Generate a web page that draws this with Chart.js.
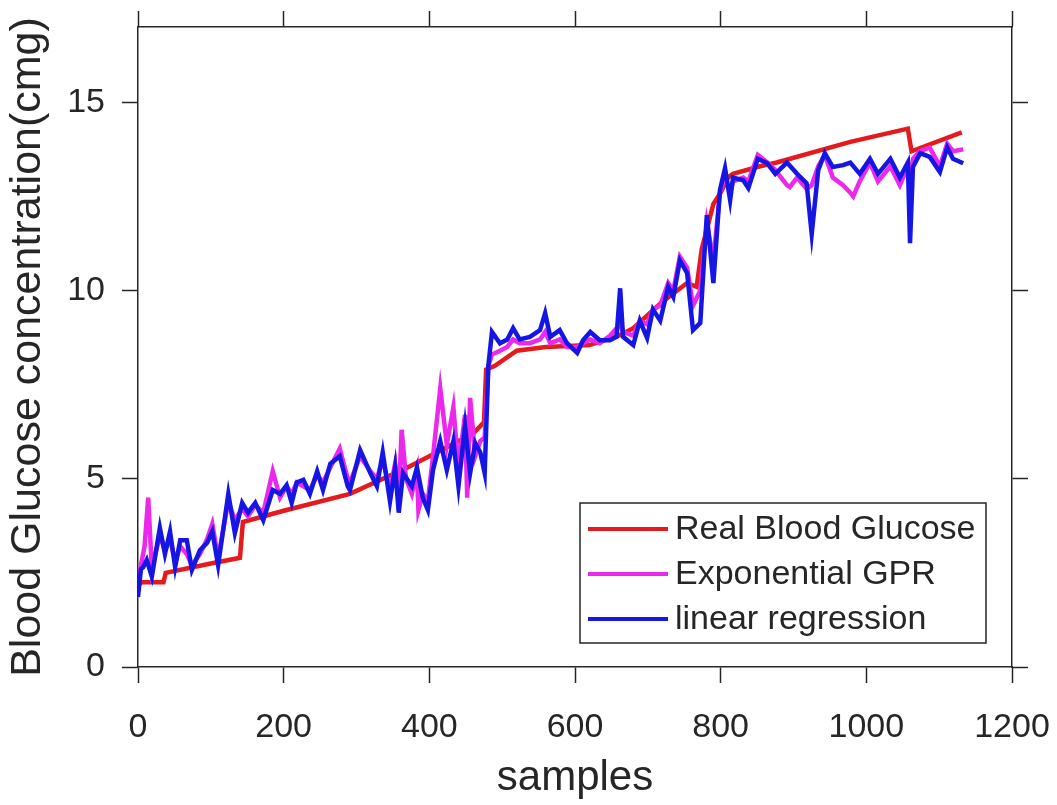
<!DOCTYPE html>
<html>
<head>
<meta charset="utf-8">
<script src="https://cdn.jsdelivr.net/npm/chart.js@4/dist/chart.umd.min.js"></script>
<style>
  body { margin: 0; background: #fff; }
</style>
</head>
<body>
<canvas id="glucoseChart" width="1057" height="805"></canvas>
<script>
const xTicks = [0, 200, 400, 600, 800, 1000, 1200];
const yTicks = [0, 5, 10, 15];

// Real Blood Glucose (red)
const realX = [0, 5, 35, 38, 100, 140, 144, 200, 291, 370, 400, 460, 475, 478, 490, 520, 560, 620, 660, 680,
  720, 754, 767, 774, 790, 800, 810, 817, 854, 877, 978, 1057, 1062, 1131];
const realY = [2.15, 2.25, 2.25, 2.5, 2.75, 2.9, 3.85, 4.15, 4.6, 5.3, 5.6, 6.2, 6.5, 7.9, 8.0, 8.4, 8.5, 8.55, 8.8, 9.0,
  9.7, 10.2, 10.1, 11.1, 12.3, 12.6, 13.0, 13.1, 13.3, 13.4, 13.95, 14.3, 13.7, 14.2];

// Exponential GPR (magenta)
const gprX = [0, 4, 9, 14, 19, 30, 37, 44, 51, 58, 67, 74, 85, 95, 102, 110, 124, 133, 143, 151,
  161, 172, 185, 195, 204, 211, 218, 227, 236, 246, 254, 264, 277, 288, 291, 305, 319, 328, 336, 346,
  353, 358, 362, 368, 376, 383, 385, 391, 398, 405, 415, 424, 433, 440, 449, 452, 456, 463, 470, 476,
  481, 486, 497, 507, 515, 524, 538, 552, 559, 566, 579, 589, 603, 611, 621, 634, 648, 657, 662, 666,
  680, 689, 699, 707, 717, 728, 735, 744, 754, 762, 772, 778, 781, 790, 799, 806, 813, 817, 831, 838,
  851, 864, 875, 891, 895, 905, 918, 925, 934, 943, 954, 968, 978, 982, 991, 1005, 1016, 1033, 1046, 1057,
  1060, 1064, 1074, 1087, 1101, 1111, 1119, 1133];
const gprY = [2.0, 2.7, 3.2, 4.5, 2.6, 3.5, 3.1, 3.4, 2.8, 3.2, 3.0, 2.7, 3.0, 3.4, 3.8, 2.9, 4.4, 3.9, 4.2, 4.0,
  4.3, 4.1, 5.2, 4.5, 4.8, 4.6, 4.9, 4.8, 4.7, 5.1, 4.9, 5.3, 5.8, 5.0, 4.9, 5.6, 5.2, 5.0, 5.5, 4.7,
  5.4, 4.5, 6.3, 5.0, 4.6, 5.2, 4.17, 4.6, 4.4, 5.6, 7.4, 5.9, 6.9, 5.3, 6.7, 4.5, 7.15, 5.6, 6.0, 6.1,
  8.0, 8.3, 8.4, 8.5, 8.7, 8.6, 8.6, 8.7, 8.9, 8.6, 8.7, 8.5, 8.5, 8.6, 8.7, 8.6, 8.8, 9.0, 9.1, 8.9,
  8.8, 9.2, 9.1, 9.5, 9.6, 10.2, 10.0, 10.9, 10.6, 9.6, 10.0, 11.2, 11.8, 10.8, 12.6, 13.0, 12.6, 12.9, 13.0, 12.9,
  13.6, 13.4, 13.2, 12.8, 12.75, 13.0, 12.7, 12.8, 13.3, 13.6, 13.0, 12.8, 12.6, 12.5, 12.9, 13.4, 12.9, 13.3, 12.8, 13.3,
  13.0, 13.5, 13.7, 13.8, 13.3, 13.9, 13.7, 13.75];

// linear regression (blue)
const linX = [0, 4, 7, 12, 19, 30, 37, 44, 51, 58, 67, 74, 85, 95, 102, 110, 124, 133, 143, 151,
  161, 172, 185, 195, 204, 211, 218, 227, 236, 246, 254, 264, 277, 288, 291, 305, 319, 328, 336, 346,
  353, 358, 364, 376, 383, 391, 398, 405, 415, 424, 433, 440, 449, 456, 463, 470, 476, 481, 486, 497,
  507, 515, 524, 538, 552, 559, 566, 579, 589, 603, 611, 621, 634, 648, 657, 662, 666, 680, 689, 699,
  707, 717, 728, 735, 744, 754, 762, 772, 778, 781, 790, 799, 806, 813, 817, 831, 838, 851, 864, 875,
  891, 905, 918, 925, 934, 943, 954, 968, 978, 991, 1005, 1016, 1033, 1046, 1057, 1060, 1064, 1074, 1087, 1101,
  1111, 1119, 1133];
const linY = [1.86, 2.6, 2.65, 2.84, 2.4, 3.7, 3.0, 3.6, 2.65, 3.37, 3.37, 2.58, 3.1, 3.3, 3.6, 2.7, 4.6, 3.56, 4.36, 4.1,
  4.36, 3.9, 4.7, 4.6, 4.83, 4.36, 4.9, 4.97, 4.6, 5.2, 4.7, 5.4, 5.6, 4.8, 4.7, 5.76, 5.15, 4.8, 5.7, 4.4,
  5.3, 4.1, 5.15, 4.8, 5.3, 4.5, 4.17, 5.23, 6.0, 5.23, 6.0, 4.8, 6.4, 5.15, 5.95, 5.7, 5.15, 8.0, 8.9, 8.6,
  8.7, 9.0, 8.7, 8.77, 8.95, 9.4, 8.77, 8.95, 8.6, 8.34, 8.68, 8.9, 8.68, 8.68, 8.77, 10.06, 8.77, 8.55, 9.2, 8.74,
  9.5, 9.2, 10.1, 9.83, 10.8, 10.46, 8.95, 9.14, 11.07, 12.0, 10.2, 12.67, 13.25, 12.4, 13.0, 12.93, 12.72, 13.5, 13.38, 13.1,
  13.4, 13.1, 12.85, 11.5, 13.2, 13.65, 13.28, 13.33, 13.4, 13.1, 13.5, 13.1, 13.5, 13.0, 13.4, 11.26, 13.28, 13.65, 13.55, 13.15,
  13.8, 13.5, 13.38];

function toPoints(xs, ys) {
  return xs.map((x, i) => ({ x: x, y: ys[i] }));
}

const axisColor = '#262626';
const fontFamily = '"Liberation Sans", Arial, sans-serif';

// legend drawn inside the plot, bottom right, like the matlab one
const insideLegend = {
  id: 'insideLegend',
  afterDraw(chart) {
    const c = chart.ctx;
    const area = chart.chartArea;
    const left = area.left + 442;
    const right = area.right - 26;
    const top = area.bottom - 164;
    const bottom = area.bottom - 24;
    c.save();
    c.fillStyle = '#fff';
    c.fillRect(left, top, right - left, bottom - top);
    c.strokeStyle = axisColor;
    c.lineWidth = 1.5;
    c.strokeRect(left, top, right - left, bottom - top);
    c.font = '34px ' + fontFamily;
    c.textBaseline = 'middle';
    c.fillStyle = axisColor;
    chart.data.datasets.forEach((ds, i) => {
      const y = top + 26 + i * 45;
      c.strokeStyle = ds.borderColor;
      c.lineWidth = 4;
      c.beginPath();
      c.moveTo(left + 8, y);
      c.lineTo(left + 88, y);
      c.stroke();
      c.fillText(ds.label, left + 95, y + 1);
    });
    c.restore();
  }
};

const ctx = document.getElementById('glucoseChart').getContext('2d');

const gridOpts = {
  drawOnChartArea: false,
  drawTicks: true,
  tickLength: 16,
  tickWidth: 1.5,
  tickColor: axisColor,
  color: axisColor
};
const borderOpts = { color: axisColor, width: 1.5 };

// fixed axis sizes so the frame sits where matlab put it
function fixSize(size, horizontal) {
  return (s) => {
    if (horizontal) s.height = size; else s.width = size;
    s.paddingTop = 0;
    s.paddingBottom = 0;
    s.paddingLeft = 0;
    s.paddingRight = 0;
  };
}

new Chart(ctx, {
  type: 'line',
  data: {
    datasets: [
      {
        label: 'Real Blood Glucose',
        data: toPoints(realX, realY),
        borderColor: 'rgb(228, 26, 28)',
        borderWidth: 4.5,
        pointRadius: 0,
        tension: 0,
        order: 3
      },
      {
        label: 'Exponential GPR',
        data: toPoints(gprX, gprY),
        borderColor: 'rgb(236, 40, 236)',
        borderWidth: 4.5,
        pointRadius: 0,
        tension: 0,
        order: 2
      },
      {
        label: 'linear regression',
        data: toPoints(linX, linY),
        borderColor: 'rgb(22, 22, 228)',
        borderWidth: 4.5,
        pointRadius: 0,
        tension: 0,
        order: 1
      }
    ]
  },
  options: {
    responsive: false,
    animation: false,
    layout: { padding: 0 },
    plugins: {
      legend: { display: false },
      tooltip: { enabled: false }
    },
    scales: {
      x: {
        type: 'linear',
        position: 'bottom',
        min: 0,
        max: 1200,
        afterBuildTicks: (s) => { s.ticks = xTicks.map(v => ({ value: v })); },
        afterFit: fixSize(138, true),
        ticks: {
          font: { family: fontFamily, size: 34 },
          color: axisColor,
          padding: 24,
          maxRotation: 0,
          callback: (v) => String(v)
        },
        grid: gridOpts,
        border: borderOpts,
        title: {
          display: true,
          text: 'samples',
          font: { family: fontFamily, size: 42 },
          color: axisColor,
          padding: { top: 0, bottom: 1 }
        }
      },
      x2: {
        type: 'linear',
        position: 'top',
        min: 0,
        max: 1200,
        afterBuildTicks: (s) => { s.ticks = xTicks.map(v => ({ value: v })); },
        afterFit: fixSize(27, true),
        ticks: { display: false },
        grid: gridOpts,
        border: borderOpts
      },
      y: {
        type: 'linear',
        position: 'left',
        min: 0,
        max: 17,
        afterBuildTicks: (s) => { s.ticks = yTicks.map(v => ({ value: v })); },
        afterFit: fixSize(138, false),
        ticks: {
          font: { family: fontFamily, size: 34 },
          color: axisColor,
          padding: 17,
          callback: (v) => String(v)
        },
        grid: gridOpts,
        border: borderOpts,
        title: {
          display: true,
          text: 'Blood Glucose concentration(cmg)',
          font: { family: fontFamily, size: 43 },
          color: axisColor,
          padding: { top: 2, bottom: 0 }
        }
      },
      y2: {
        type: 'linear',
        position: 'right',
        min: 0,
        max: 17,
        afterBuildTicks: (s) => { s.ticks = yTicks.map(v => ({ value: v })); },
        afterFit: fixSize(45, false),
        ticks: { display: false },
        grid: gridOpts,
        border: borderOpts
      }
    }
  },
  plugins: [insideLegend]
});
</script>
</body>
</html>
